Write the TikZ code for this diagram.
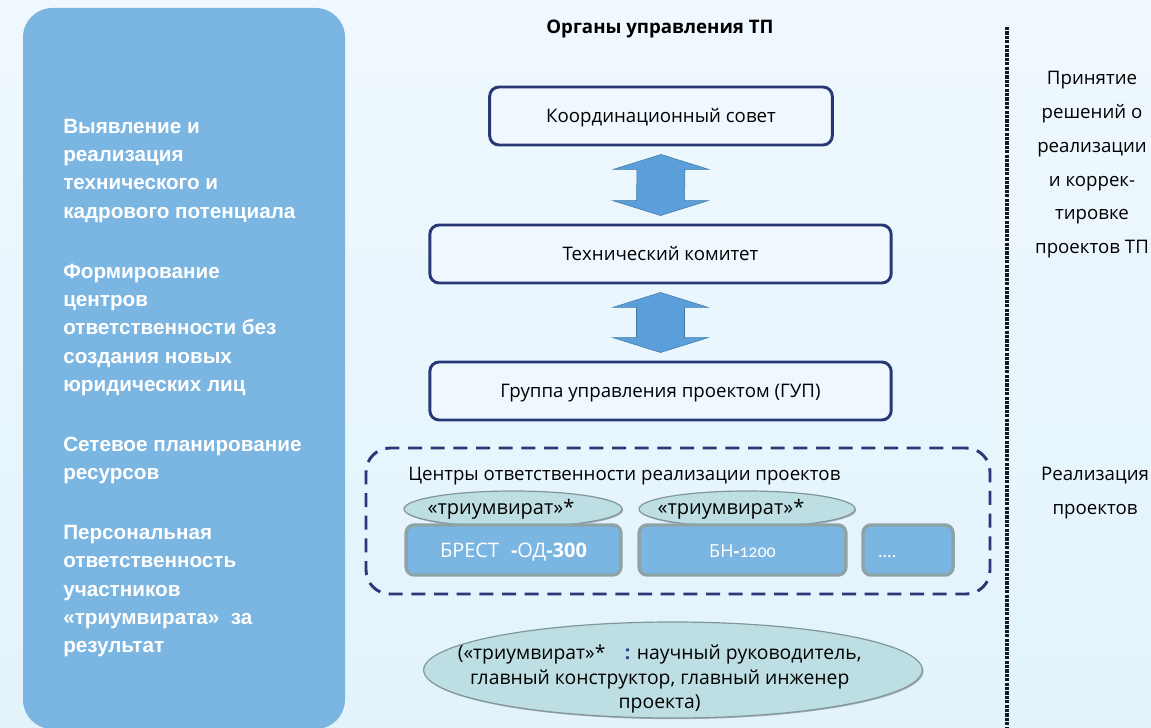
\documentclass[tikz,border=0pt]{standalone}
\usepackage{fontspec}
\setmainfont{Open Sans}
\newfontfamily\goalfont{Liberation Sans}
\newfontfamily\oldnumfont[Numbers=OldStyle]{Carlito}
\usetikzlibrary{shapes.geometric,calc,shadows}

\definecolor{bgtop}{RGB}{239,248,254}
\definecolor{bgbottom}{RGB}{226,243,252}
\definecolor{panelblue}{RGB}{123,181,225}
\definecolor{navy}{RGB}{40,56,118}
\definecolor{arrowblue}{RGB}{90,159,217}
\definecolor{triumfill}{RGB}{189,223,227}
\definecolor{triumedge}{RGB}{128,150,155}
\definecolor{projedge}{RGB}{140,164,168}
\definecolor{colonblue}{RGB}{45,65,150}

\begin{document}
\begin{tikzpicture}[x=0.75pt, y=-0.75pt,
    organ/.style={draw=navy, line width=2.2pt, rounded corners=7pt, fill=bgtop,
      minimum height=43.5pt, text height=10pt, text depth=0pt,
      font=\fontsize{14}{16}\selectfont},
    updown/.style={fill=arrowblue, draw=arrowblue!75!black, line width=0.4pt},
    trium/.style={ellipse, fill=triumfill, draw=triumedge, line width=0.9pt,
      minimum height=27pt, inner sep=0pt,
      drop shadow={shadow xshift=0.9pt, shadow yshift=-0.9pt, opacity=0.45, fill=black!60}},
    project/.style={draw=projedge, line width=2.6pt, rounded corners=6pt, fill=panelblue,
      minimum height=37.5pt, text height=10.5pt, text depth=0pt, text=white,
      font=\fontsize{15}{17}\selectfont},
    side note/.style={anchor=base, align=center, inner sep=0pt,
      font=\fontsize{14}{25.3}\selectfont},
    divider/.style={draw=black!90, line width=2.5pt, dash pattern=on 2.4pt off 0.9pt}]
  \shade[top color=bgtop, bottom color=bgbottom] (0,0) rectangle (1151,727);
  \useasboundingbox (0,0) rectangle (1151,727);

  % left panel
  \fill[panelblue, rounded corners=22pt] (23,8) rectangle (345,729);
  \node[anchor=base west, align=left, inner sep=0pt, text=white,
    font=\goalfont\bfseries\fontsize{15.5}{21.2}\selectfont] (goals) at (63,652.6)
    {Выявление и\\ реализация\\ технического и\\ кадрового потенциала\\[23.8pt]
     Формирование\\ центров\\ ответственности без\\ создания новых\\ юридических лиц\\[23.8pt]
     Сетевое планирование\\ ресурсов\\[23.8pt]
     Персональная\\ ответственность\\ участников\\ «триумвирата»~ за\\ результат};

  % management bodies
  \node[anchor=base, inner sep=0pt, font=\bfseries\fontsize{14}{16}\selectfont] (title)
    at (660,34) {Органы управления ТП};
  \node[organ, minimum width=257pt] (kc) at (661,116) {Координационный совет};
  \node[organ, minimum width=346pt] (tk) at (660.5,254) {Технический комитет};
  \node[organ, minimum width=346pt] (gup) at (660.5,391) {Группа управления проектом (ГУП)};
  \foreach \a/\b in {kc/tk, tk/gup}{
    \coordinate (t1) at ($(\a.south)+(0,8)$);
    \coordinate (t2) at ($(\b.north)+(0,-8)$);
    \filldraw[updown] (t1) -- ++(48,15) -- ++(-24,0) -- ($(t2)+(24,-15)$) -- ++(24,0)
      -- (t2) -- ++(-48,-15) -- ++(24,0) -- ($(t1)+(-24,15)$) -- ++(-24,0) -- cycle;
  }

  % responsibility centres
  \node[draw=navy, line width=2.2pt, dash pattern=on 10.5pt off 6.5pt, rounded corners=18pt,
    minimum width=468pt, minimum height=109.5pt] (centres) at (678,521) {};
  \node[anchor=base west, inner sep=0pt, font=\fontsize{14}{16}\selectfont] (centres label)
    at (408,480) {Центры ответственности реализации проектов};
  \node[trium, minimum width=163.5pt,
    label={[xshift=-9pt, font=\fontsize{15}{17}\selectfont]center:«триумвират»*}] (tri1) at (513,509) {};
  \node[trium, minimum width=162pt,
    label={[xshift=-12pt, font=\fontsize{15}{17}\selectfont]center:«триумвират»*}] (tri2) at (747,509) {};
  \node[project, minimum width=161pt] (brest) at (513.5,550)
    {БРЕСТ\,\, \textbf{-}ОД\textbf{-300}};
  \node[project, minimum width=155pt, font=\fontsize{13.5}{16}\selectfont] (bn) at (742.5,550)
    {БН\textbf{-}{\oldnumfont 1200}};
  \node[project, minimum width=67.5pt, text width=45pt, align=left,
    font=\fontsize{13}{15}\selectfont] (more) at (908,550) {....};

  % triumvirate note
  \node[trium, minimum width=374pt, minimum height=72pt,
    label={[xshift=-10pt, yshift=-7pt, align=center, font=\fontsize{14.5}{18.4}\selectfont]center:
      («триумвират»*\quad{\color{colonblue}\textbf{:}} научный руководитель,\\
      главный конструктор, главный инженер\\ проекта)}] (note) at (673,670) {};

  % right column
  \draw[divider] (1007,27) -- (1007,727);
  \node[side note] (decide) at (1092,253.5)
    {Принятие\\ решений о\\ реализации\\ и коррек-\\ тировке\\ проектов ТП};
  \node[side note] (realise) at (1095,514) {Реализация\\ проектов};
\end{tikzpicture}
\end{document}
